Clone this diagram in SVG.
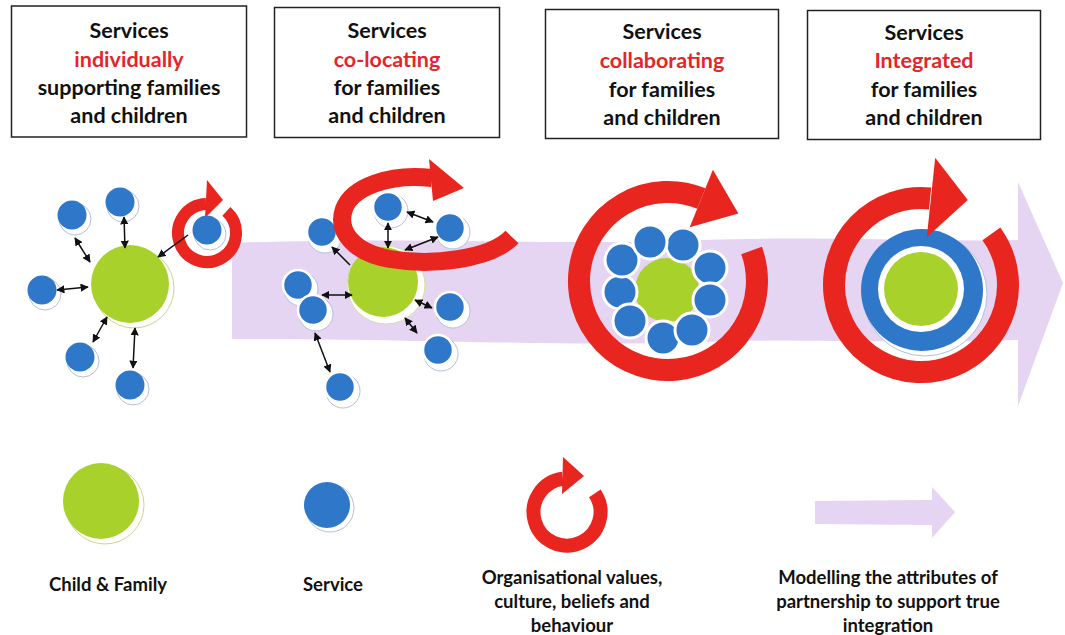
<svg xmlns="http://www.w3.org/2000/svg" width="1065" height="635" viewBox="0 0 1065 635">
<style>
.box{fill:#fff;stroke:#222;stroke-width:1.5}
.ht{font-family:Lato,"Open Sans","Liberation Sans",sans-serif;font-weight:bold;font-size:21.5px;fill:#111;text-anchor:middle}
.hr{fill:#e2262a}
.lt{font-family:Lato,"Open Sans","Liberation Sans",sans-serif;font-weight:bold;font-size:18.5px;fill:#111;text-anchor:middle}
.band{fill:#e5d4f2}
.red{fill:none;stroke:#e8251f}
.redf{fill:#e8251f}
.green{fill:#a9d12c}
.blue{fill:#2f77c9}
.gsh{fill:#fff;stroke:#c9d88a;stroke-width:1}
.bsh{fill:#fff;stroke:#b4bfdc;stroke-width:1}
.con{stroke:#111;stroke-width:1.5;fill:none}
.dbl{marker-start:url(#ah);marker-end:url(#ah)}
.sgl{marker-end:url(#ah)}
</style>
<defs>
<marker id="ah" viewBox="0 0 10 10" refX="9" refY="5" markerWidth="5.5" markerHeight="5.5" orient="auto-start-reverse"><path d="M0,0 L10,5 L0,10 z" fill="#111"/></marker>
</defs>
<rect width="1065" height="635" fill="#fff"/>

<!-- Header boxes -->
<g id="header1">
<rect class="box" x="11.5" y="6" width="235" height="131"/>
<text class="ht" x="129" y="38">Services</text>
<text class="ht hr" x="129" y="66.5">individually</text>
<text class="ht" x="129" y="95">supporting families</text>
<text class="ht" x="129" y="123">and children</text>
</g>
<g id="header2">
<rect class="box" x="274.5" y="7.5" width="225" height="130"/>
<text class="ht" x="387" y="38">Services</text>
<text class="ht hr" x="387" y="66.5">co-locating</text>
<text class="ht" x="387" y="95">for families</text>
<text class="ht" x="387" y="123">and children</text>
</g>
<g id="header3">
<rect class="box" x="545.5" y="9.5" width="233" height="129"/>
<text class="ht" x="662" y="39">Services</text>
<text class="ht hr" x="662" y="68">collaborating</text>
<text class="ht" x="662" y="97">for families</text>
<text class="ht" x="662" y="125">and children</text>
</g>
<g id="header4">
<rect class="box" x="807.5" y="10.5" width="233" height="129"/>
<text class="ht" x="924" y="40">Services</text>
<text class="ht hr" x="924" y="68">Integrated</text>
<text class="ht" x="924" y="97">for families</text>
<text class="ht" x="924" y="125">and children</text>
</g>

<!-- Band arrow -->
<g id="band">
<path class="band" d="M232 243 C400 236 560 246 700 240 C820 236 930 242 1018 240 L1018 182 L1063 283 L1018 406 L1018 340 C900 344 800 338 700 342 C560 347 400 338 232 339 Z"/>
</g>

<!-- Stage 1 -->
<g id="stage1">
<circle class="gsh" cx="134" cy="288" r="40"/>
<circle class="green" cx="130" cy="284" r="39"/>
<g id="s1-services">
<circle class="bsh" cx="75" cy="219" r="16"/><circle class="blue" cx="72" cy="215" r="14.5"/>
<circle class="bsh" cx="123" cy="206" r="16"/><circle class="blue" cx="120" cy="202" r="14.5"/>
<circle class="bsh" cx="45" cy="294" r="16"/><circle class="blue" cx="42" cy="290" r="14.5"/>
<circle class="bsh" cx="83" cy="361" r="16"/><circle class="blue" cx="80" cy="357" r="14.5"/>
<circle class="bsh" cx="133" cy="389" r="16"/><circle class="blue" cx="130" cy="385" r="14.5"/>
</g>
<g id="s1-ring">
<path class="red" stroke-width="12" d="M226.4 211.4 A29 29 0 1 1 206 204"/>
<polygon class="redf" points="207,180 223,200 205,218"/>
<circle class="bsh" cx="210" cy="234" r="16"/><circle class="blue" cx="207" cy="230" r="14.5"/>
</g>
</g>

<!-- Stage 2 -->
<g id="stage2">
<circle fill="#fff" stroke="#d7e0a0" stroke-width="1" cx="386" cy="285" r="39"/>
<circle class="green" cx="383" cy="282" r="35"/>
<g id="s2-services">
<circle class="bsh" cx="391" cy="211" r="17"/><circle class="blue" stroke="#fff" stroke-width="2.5" cx="388" cy="207" r="15"/>
<circle class="bsh" cx="453" cy="232" r="17"/><circle class="blue" stroke="#fff" stroke-width="2.5" cx="450" cy="228" r="15"/>
<circle class="bsh" cx="325" cy="236" r="17"/><circle class="blue" stroke="#fff" stroke-width="2.5" cx="322" cy="232" r="15"/>
<circle class="bsh" cx="301" cy="289" r="17"/><circle class="blue" stroke="#fff" stroke-width="2.5" cx="298" cy="285" r="15"/>
<circle class="bsh" cx="316" cy="314" r="17"/><circle class="blue" stroke="#fff" stroke-width="2.5" cx="313" cy="310" r="15"/>
<circle class="bsh" cx="453" cy="311" r="17"/><circle class="blue" stroke="#fff" stroke-width="2.5" cx="450" cy="307" r="15"/>
<circle class="bsh" cx="441" cy="354" r="17"/><circle class="blue" stroke="#fff" stroke-width="2.5" cx="438" cy="350" r="15"/>
<circle class="bsh" cx="343" cy="391" r="17"/><circle class="blue" stroke="#fff" stroke-width="2.5" cx="340" cy="387" r="15"/>
</g>
<g id="s2-ring">
<path class="red" stroke-width="18" d="M512 237 C490 260 430 266 390 259 C355 253 336 232 344 209 C352 187 390 173 432 178"/>
<polygon class="redf" points="429,159 464,188 433,201"/>
</g>
</g>

<!-- Stage 3 -->
<g id="stage3">
<path class="red" stroke-width="22" d="M751.6 250.6 A89 89 0 1 1 701.3 198.5"/>
<polygon class="redf" points="712.9,169.8 738.4,213.5 689.7,227.2"/>
<circle class="green" cx="667" cy="290" r="32"/>
<g id="s3-services" stroke="#fff" stroke-width="3">
<circle class="blue" cx="620" cy="292" r="17"/>
<circle class="blue" cx="663" cy="338" r="17"/>
<circle class="blue" cx="710" cy="268" r="17"/>
<circle class="blue" cx="683" cy="245" r="17"/>
<circle class="blue" cx="622" cy="260" r="17"/>
<circle class="blue" cx="650" cy="242" r="17"/>
<circle class="blue" cx="630" cy="321" r="17"/>
<circle class="blue" cx="692" cy="330" r="17"/>
<circle class="blue" cx="710" cy="300" r="17"/>
</g>
</g>

<!-- Stage 4 -->
<g id="stage4">
<path class="red" stroke-width="22" d="M991.4 233.9 A87 87 0 1 1 930.1 198.5"/>
<circle class="bsh" cx="925" cy="294" r="62"/>
<circle class="blue" cx="922" cy="290" r="61"/>
<circle fill="#fff" cx="921" cy="289" r="43"/>
<circle class="green" cx="921" cy="289" r="37"/>
<polygon class="redf" points="935.2,157.7 967.8,200 926.8,237.3"/>
</g>

<!-- Connectors -->
<g id="connectors" class="con">
<line class="dbl" x1="75" y1="238" x2="90" y2="262"/>
<line class="dbl" x1="124" y1="217" x2="125" y2="248"/>
<line class="dbl" x1="57" y1="290" x2="88" y2="287"/>
<line class="dbl" x1="93" y1="342" x2="107" y2="317"/>
<line class="dbl" x1="133" y1="368" x2="135" y2="328"/>
<line class="sgl" x1="188" y1="235" x2="158" y2="257"/>
<line class="dbl" x1="388" y1="223" x2="388" y2="248"/>
<line class="dbl" x1="407" y1="212" x2="433" y2="222"/>
<line class="dbl" x1="438" y1="237" x2="405" y2="250"/>
<line class="sgl" x1="350" y1="265" x2="332" y2="247"/>
<line class="dbl" x1="322" y1="295" x2="352" y2="295"/>
<line class="dbl" x1="415" y1="300" x2="432" y2="308"/>
<line class="dbl" x1="405" y1="318" x2="417" y2="333"/>
<line class="dbl" x1="315" y1="333" x2="330" y2="372"/>
</g>

<!-- Legend -->
<g id="legend-child">
<circle class="gsh" cx="105" cy="505" r="39"/>
<circle class="green" cx="101" cy="501" r="38"/>
<text class="lt" x="108" y="591">Child &amp; Family</text>
</g>
<g id="legend-service">
<circle class="bsh" cx="330" cy="508" r="24"/>
<circle class="blue" cx="327" cy="505" r="23"/>
<text class="lt" x="333" y="591">Service</text>
</g>
<g id="legend-culture">
<path class="red" stroke-width="14" d="M594.8 493.3 A33.5 33.5 0 1 1 562.9 478.8"/>
<polygon class="redf" points="563,457 584,476 562,494"/>
<text class="lt" x="572" y="584">Organisational values,</text>
<text class="lt" x="572" y="608">culture, beliefs and</text>
<text class="lt" x="572" y="632">behaviour</text>
</g>
<g id="legend-partnership">
<path class="band" d="M815 501 L932 500 L932 487 L955 512 L932 538 L932 525 L815 524 Z"/>
<text class="lt" x="888" y="584">Modelling the attributes of</text>
<text class="lt" x="888" y="608">partnership to support true</text>
<text class="lt" x="888" y="632">integration</text>
</g>
</svg>
